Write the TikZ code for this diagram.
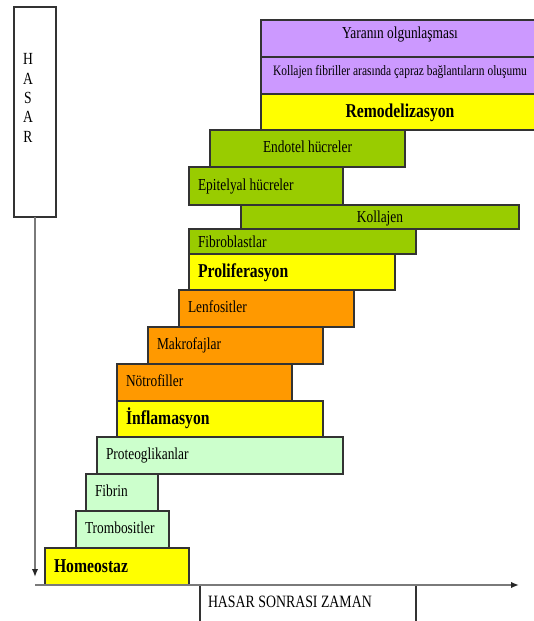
\documentclass[tikz,border=0pt]{standalone}
\usepackage{fontspec}
\setmainfont{Liberation Serif}[FakeStretch=0.8]
\usetikzlibrary{positioning, arrows.meta}
\definecolor{stepyellow}{HTML}{FFFF00}
\definecolor{steporange}{HTML}{FF9900}
\definecolor{stepgreen}{HTML}{99CC00}
\definecolor{palegreen}{HTML}{CCFFCC}
\definecolor{lilac}{HTML}{CC99FF}
\definecolor{axisgray}{HTML}{7A7A7A}
\definecolor{edge}{HTML}{333333}

\begin{document}
\begin{tikzpicture}[x=1pt, y=-1pt, >={Latex[length=8pt, width=6.5pt, color=black!85]}, line width=1.2pt,
    stepbox/.style={draw=edge, rectangle, anchor=north west, outer sep=0pt, inner xsep=9pt, inner ysep=0pt, minimum height=37, text height=11.5pt, text depth=3.5pt, font=\fontsize{16.75}{19}\selectfont},
    phase/.style={stepbox, fill=stepyellow, minimum height=36, text height=13pt, text depth=2pt, font=\fontsize{19.6}{22}\selectfont\bfseries},
    clot/.style={stepbox, fill=palegreen},
    cell/.style={stepbox, fill=steporange},
    tissue/.style={stepbox, fill=stepgreen},
    thin/.style={tissue, text depth=0pt},
    mature/.style={stepbox, fill=lilac, text height=8pt, text depth=8pt},
    axisline/.style={->, axisgray, line width=1.8pt}]
\useasboundingbox (0,0) rectangle (534,621);

\node[draw=edge, fill=white, anchor=north west, outer sep=0pt, minimum width=42, minimum height=210] (hasar) at (14,7) {};
\node[font=\fontsize{17}{19.3}\selectfont, align=center] (hasarword) at (28,98) {H\\A\\S\\A\\R};

\node[phase, minimum width=144, minimum height=37, text width=126, align=flush left] (homeo) at (45,548) {Homeostaz};
\node[clot, minimum width=93, text width=75, align=flush left] (tromb) at (76,511) {Trombositler};
\node[clot, minimum width=72, text width=54, align=flush left] (fibrin) at (86,474) {Fibrin};
\node[clot, minimum width=246, text width=228, align=flush left] (proteo) at (97,437) {Proteoglikanlar};

\node[phase, minimum width=206, text width=188, align=flush left] (inflam) at (117,401) {İnflamasyon};
\node[cell, minimum width=175, text width=157, align=flush left] (notro) at (117,364) {Nötrofiller};
\node[cell, minimum width=175, text width=157, align=flush left] (makro) at (148,327) {Makrofajlar};
\node[cell, minimum width=175, text width=157, align=flush left] (lenfo) at (179,290) {Lenfositler};

\node[phase, minimum width=206, text width=188, align=flush left] (prolif) at (189,254) {Proliferasyon};
\node[thin, minimum width=227, minimum height=25, text width=209, align=flush left] (fibro) at (189,229) {Fibroblastlar};
\node[thin, minimum width=278, minimum height=24] (kollajen) at (241,205) {Kollajen};
\node[tissue, minimum width=154, minimum height=38, text width=136, align=flush left] (epitel) at (189,167) {Epitelyal hücreler};
\node[tissue, minimum width=195] (endotel) at (210,130) {Endotel hücreler};

\node[phase, minimum width=278] (remodel) at (261,94) {Remodelizasyon};
\node[mature, minimum width=278, font=\fontsize{14.3}{16}\selectfont] (capraz) at (261,57) {Kollajen fibriller arasında çapraz bağlantıların oluşumu};
\node[mature, minimum width=278] (yara) at (261,20) {Yaranın olgunlaşması};

\node[draw=edge, fill=white, anchor=north west, outer sep=0pt, minimum width=216, minimum height=45, inner xsep=8pt, inner ysep=0pt, text width=200, align=flush left, text height=11pt, text depth=11pt, font=\fontsize{17.3}{19}\selectfont] (zaman) at (200,585) {HASAR SONRASI ZAMAN};

\coordinate (hasarend) at (35,577);
\coordinate (origin) at (35,585);
\coordinate (timeend) at (519,585);
\draw[axisline] (hasar.south) -- (hasarend);
\draw[axisline] (origin) -- (timeend);

\end{tikzpicture}
\end{document}
